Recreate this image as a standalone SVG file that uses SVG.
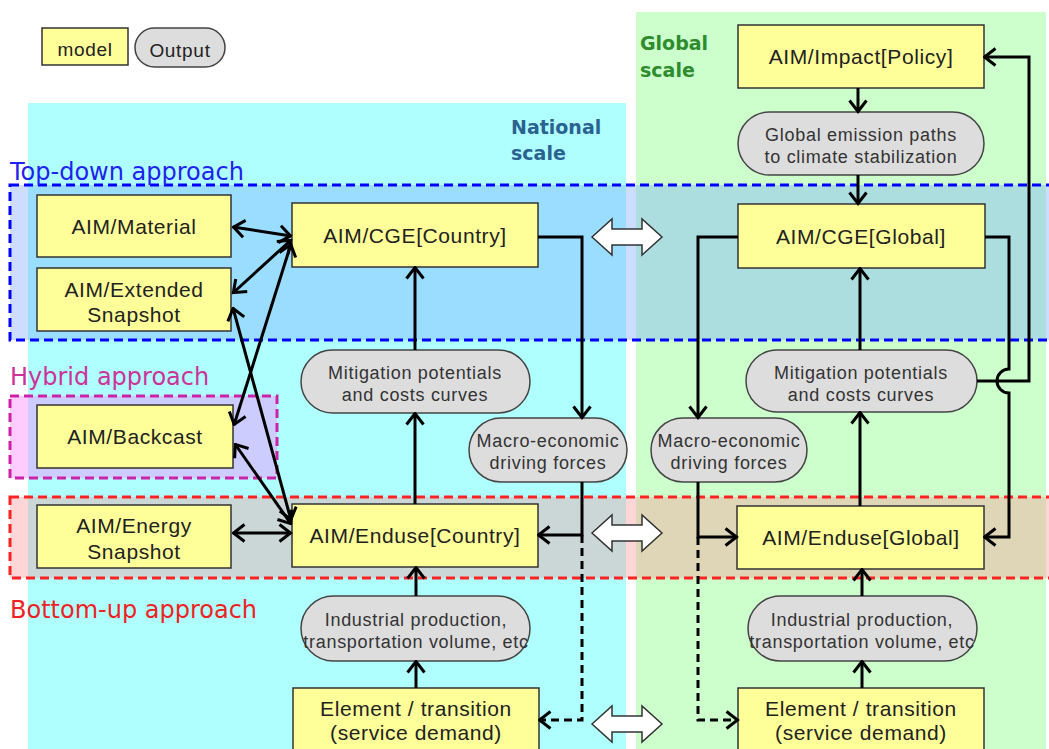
<svg xmlns="http://www.w3.org/2000/svg" width="1049" height="749" viewBox="0 0 1049 749">
<style>
.m{fill:#ffff99;stroke:#333;stroke-width:1.5}
.o{fill:#dddddd;stroke:#444;stroke-width:1.5}
.t{font-family:"Liberation Sans",Arial,sans-serif;font-size:21px;letter-spacing:0.6px;fill:#222;text-anchor:middle}
.p{font-family:"Liberation Sans",Arial,sans-serif;font-size:18px;letter-spacing:0.7px;fill:#333;text-anchor:middle}
.c{fill:none;stroke:#000;stroke-width:3}
.d{fill:none;stroke:#000;stroke-width:3;stroke-dasharray:8,5}
.lab{font-family:"DejaVu Sans",sans-serif;font-size:24px}
.sc{font-family:"DejaVu Sans",sans-serif;font-size:19px;font-weight:bold}
.ba{fill:#fff;stroke:#333;stroke-width:1.5}
</style>
<defs>
<marker id="a" viewBox="-14 -11 16 22" refX="0.5" refY="0" markerWidth="16" markerHeight="22" markerUnits="userSpaceOnUse" orient="auto-start-reverse">
<path d="M-11,-8.5 L0,0 L-11,8.5" fill="none" stroke="#000" stroke-width="3" stroke-linejoin="miter" stroke-miterlimit="3"/>
</marker>
</defs>
<rect width="1049" height="749" fill="#fff"/>
<g id="panels">
<rect x="28" y="103" width="598" height="660" fill="#b0ffff"/>
<rect x="636" y="12" width="410" height="750" fill="#ccffcc"/>
</g>
<g id="bands">
<rect x="10" y="185" width="1050" height="155" fill="rgb(117,163,255)" fill-opacity="0.37" stroke="#0000ff" stroke-width="3" stroke-dasharray="9,5"/>
<rect x="10" y="396" width="267" height="82" fill="rgb(255,117,255)" fill-opacity="0.37" stroke="#cc22aa" stroke-width="3" stroke-dasharray="9,5"/>
<rect x="10" y="497" width="1050" height="81" fill="rgb(255,137,141)" fill-opacity="0.35" stroke="#ff2222" stroke-width="3" stroke-dasharray="9,5"/>
</g>
<g id="labels">
<text class="lab" x="10" y="180" fill="#2222ee">Top-down approach</text>
<text class="lab" x="10" y="385" fill="#cc3399">Hybrid approach</text>
<text class="lab" x="10" y="618" fill="#ee2222">Bottom-up approach</text>
<text class="sc" x="511" y="134" fill="#2a6290">National</text>
<text class="sc" x="511" y="160" fill="#2a6290">scale</text>
<text class="sc" x="640" y="50" fill="#2e8b2e">Global</text>
<text class="sc" x="640" y="77" fill="#2e8b2e">scale</text>
</g>
<g id="legend">
<rect class="m" x="42" y="28" width="86" height="37"/>
<text class="p" x="85" y="56" style="font-size:19px;fill:#222">model</text>
<rect class="o" x="135" y="28" width="90" height="39" rx="19.5"/>
<text class="p" x="180" y="57" style="font-size:19px;fill:#222">Output</text>
</g>
<g id="block-arrows">
<path class="ba" d="M592,237 L612,219 L612,229 L642,229 L642,219 L662,237 L642,255 L642,245 L612,245 L612,255 Z"/>
<path class="ba" d="M592,533 L612,515 L612,525 L642,525 L642,515 L662,533 L642,551 L642,541 L612,541 L612,551 Z"/>
<path class="ba" d="M592,724 L612,706 L612,716 L642,716 L642,706 L662,724 L642,742 L642,732 L612,732 L612,742 Z"/>
</g>
<g id="n-material"><rect class="m" x="37" y="195" width="194" height="62"/><text class="t" x="134" y="234">AIM/Material</text></g>
<g id="n-extended"><rect class="m" x="37" y="268" width="194" height="63"/><text class="t" x="134" y="297">AIM/Extended</text><text class="t" x="134" y="322">Snapshot</text></g>
<g id="n-backcast"><rect class="m" x="37" y="405" width="196" height="63"/><text class="t" x="135" y="444">AIM/Backcast</text></g>
<g id="n-energy"><rect class="m" x="37" y="505" width="194" height="63"/><text class="t" x="134" y="533">AIM/Energy</text><text class="t" x="134" y="559">Snapshot</text></g>
<g id="n-cge-country"><rect class="m" x="292" y="203" width="246" height="64"/><text class="t" x="415" y="243">AIM/CGE[Country]</text></g>
<g id="n-mit-country"><rect class="o" x="301" y="350" width="229" height="63" rx="31.5"/><text class="p" x="415" y="379">Mitigation potentials</text><text class="p" x="415" y="401">and costs curves</text></g>
<g id="n-macro-country"><rect class="o" x="469" y="418" width="158" height="64" rx="32"/><text class="p" x="548" y="447">Macro-economic</text><text class="p" x="548" y="469">driving forces</text></g>
<g id="n-enduse-country"><rect class="m" x="292" y="504" width="246" height="63"/><text class="t" x="415" y="543">AIM/Enduse[Country]</text></g>
<g id="n-ind-country"><rect class="o" x="301" y="596" width="229" height="65" rx="32.5"/><text class="p" x="416" y="626">Industrial production,</text><text class="p" x="416" y="648">transportation volume, etc</text></g>
<g id="n-elem-country"><rect class="m" x="293" y="688" width="246" height="66"/><text class="t" x="416" y="716">Element / transition</text><text class="t" x="416" y="740">(service demand)</text></g>
<g id="n-impact"><rect class="m" x="738" y="25" width="246" height="63"/><text class="t" x="861" y="64">AIM/Impact[Policy]</text></g>
<g id="n-emission"><rect class="o" x="738" y="112" width="246" height="63" rx="31.5"/><text class="p" x="861" y="141">Global emission paths</text><text class="p" x="861" y="163">to climate stabilization</text></g>
<g id="n-cge-global"><rect class="m" x="738" y="204" width="247" height="64"/><text class="t" x="861" y="244">AIM/CGE[Global]</text></g>
<g id="n-mit-global"><rect class="o" x="746" y="350" width="231" height="62" rx="31"/><text class="p" x="861" y="379">Mitigation potentials</text><text class="p" x="861" y="401">and costs curves</text></g>
<g id="n-macro-global"><rect class="o" x="651" y="418" width="156" height="64" rx="32"/><text class="p" x="729" y="447">Macro-economic</text><text class="p" x="729" y="469">driving forces</text></g>
<g id="n-enduse-global"><rect class="m" x="737" y="506" width="247" height="63"/><text class="t" x="861" y="545">AIM/Enduse[Global]</text></g>
<g id="n-ind-global"><rect class="o" x="748" y="596" width="229" height="65" rx="32.5"/><text class="p" x="862" y="626">Industrial production,</text><text class="p" x="862" y="648">transportation volume, etc</text></g>
<g id="n-elem-global"><rect class="m" x="738" y="688" width="246" height="66"/><text class="t" x="861" y="716">Element / transition</text><text class="t" x="861" y="740">(service demand)</text></g>
<g id="connectors">
<path class="c" marker-start="url(#a)" marker-end="url(#a)" d="M233,227 L291,236"/>
<path class="c" marker-start="url(#a)" marker-end="url(#a)" d="M233,293 L291,240"/>
<path class="c" marker-start="url(#a)" marker-end="url(#a)" d="M234,425 L291,244"/>
<path class="c" marker-start="url(#a)" marker-end="url(#a)" d="M233,308 L291,520"/>
<path class="c" marker-start="url(#a)" marker-end="url(#a)" d="M235,444 L291,524"/>
<path class="c" marker-start="url(#a)" marker-end="url(#a)" d="M233,533 L291,533"/>
<path class="c" marker-end="url(#a)" d="M538,237 H582 V418"/>
<path class="c" marker-end="url(#a)" d="M582,482 V535 H538"/>
<path class="d" marker-end="url(#a)" d="M582,535 V720 H539"/>
<path class="c" marker-end="url(#a)" d="M415,350 V267"/>
<path class="c" marker-end="url(#a)" d="M415,504 V413"/>
<path class="c" marker-end="url(#a)" d="M416,596 V567"/>
<path class="c" marker-end="url(#a)" d="M416,688 V661"/>
<path class="c" marker-end="url(#a)" d="M858,88 V112"/>
<path class="c" marker-end="url(#a)" d="M858,175 V204"/>
<path class="c" marker-end="url(#a)" d="M860,350 V268"/>
<path class="c" marker-end="url(#a)" d="M860,506 V412"/>
<path class="c" marker-end="url(#a)" d="M862,596 V569"/>
<path class="c" marker-end="url(#a)" d="M862,688 V661"/>
<path class="c" marker-end="url(#a)" d="M738,237 H698 V418"/>
<path class="c" marker-end="url(#a)" d="M985,237 H1009 V369 A12,12 0 0 0 1009,393 V537 H984"/>
<path class="c" marker-end="url(#a)" d="M977,381 H1029 V57 H984"/>
<path class="c" marker-end="url(#a)" d="M698,482 V537 H737"/>
<path class="d" marker-end="url(#a)" d="M698,537 V720 H738"/>
</g>
</svg>
